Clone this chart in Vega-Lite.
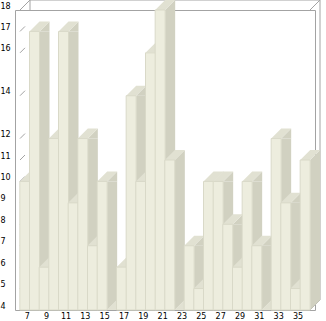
{
  "$schema": "https://vega.github.io/schema/vega-lite/v6.json",
  "width": 300,
  "height": 300,
  "autosize": "none",
  "padding": {"left": 15, "top": 10, "right": 11, "bottom": 11},
  "background": "white",
  "config": {
    "view": {"stroke": "#A3A3A3", "strokeWidth": 1},
    "axis": {"grid": false, "domain": false, "ticks": false, "tickSize": 0, "labelFlush": false, "labelOverlap": false,
      "labelFont": "DejaVu Sans", "labelFontSize": 8, "labelColor": "#000000"},
    "axisX": {"labelPadding": 2, "labelOffset": 2},
    "axisY": {"labelAlign": "left", "labelPadding": 15, "labelOffset": -4}
  },
  "data": {"values": [
    {"x": 7, "v": 10}, {"x": 8, "v": 17}, {"x": 9, "v": 6}, {"x": 10, "v": 12},
    {"x": 11, "v": 17}, {"x": 12, "v": 9}, {"x": 13, "v": 12}, {"x": 14, "v": 7},
    {"x": 15, "v": 10}, {"x": 16, "v": 4}, {"x": 17, "v": 6}, {"x": 18, "v": 14},
    {"x": 19, "v": 10}, {"x": 20, "v": 16}, {"x": 21, "v": 18}, {"x": 22, "v": 11},
    {"x": 23, "v": 4}, {"x": 24, "v": 7}, {"x": 25, "v": 5}, {"x": 26, "v": 10},
    {"x": 27, "v": 10}, {"x": 28, "v": 8}, {"x": 29, "v": 6}, {"x": 30, "v": 10},
    {"x": 31, "v": 7}, {"x": 32, "v": 4}, {"x": 33, "v": 12}, {"x": 34, "v": 9},
    {"x": 35, "v": 5}, {"x": 36, "v": 11}
  ]},
  "layer": [
    {
      "data": {"values": [{}]},
      "mark": {"type": "rule", "stroke": "#A3A3A3", "strokeWidth": 1, "xOffset": 10, "x2Offset": 10, "yOffset": -10},
      "encoding": {
        "x": {"datum": 6.5, "type": "quantitative", "scale": {"domain": [6.5, 36.5], "nice": false, "zero": false}, "axis": {"values": [7, 9, 11, 13, 15, 17, 19, 21, 23, 25, 27, 29, 31, 33, 35], "title": null}},
        "x2": {"datum": 36.5},
        "y": {"datum": 18, "type": "quantitative", "scale": {"domain": [4, 18], "nice": false, "zero": false}, "axis": {"values": [4, 5, 6, 7, 8, 9, 10, 11, 12, 14, 16, 17, 18], "title": null}}
      }
    },
    {
      "data": {"values": [{}]},
      "mark": {"type": "rule", "stroke": "#A3A3A3", "strokeWidth": 1, "xOffset": 10, "yOffset": -10, "y2Offset": -10},
      "encoding": {
        "x": {"datum": 36.5, "type": "quantitative", "scale": {"domain": [6.5, 36.5], "nice": false, "zero": false}, "axis": {"values": [7, 9, 11, 13, 15, 17, 19, 21, 23, 25, 27, 29, 31, 33, 35], "title": null}},
        "y": {"datum": 18, "type": "quantitative", "scale": {"domain": [4, 18], "nice": false, "zero": false}, "axis": {"values": [4, 5, 6, 7, 8, 9, 10, 11, 12, 14, 16, 17, 18], "title": null}},
        "y2": {"datum": 4}
      }
    },
    {
      "data": {"values": [{}]},
      "mark": {"type": "point", "shape": "M 0 0 L 1 -1 L 1 0", "size": 400, "filled": false, "stroke": "#A3A3A3", "strokeWidth": 1, "opacity": 1},
      "encoding": {
        "x": {"datum": 6.5, "type": "quantitative", "scale": {"domain": [6.5, 36.5], "nice": false, "zero": false}, "axis": {"values": [7, 9, 11, 13, 15, 17, 19, 21, 23, 25, 27, 29, 31, 33, 35], "title": null}},
        "y": {"datum": 18, "type": "quantitative", "scale": {"domain": [4, 18], "nice": false, "zero": false}, "axis": {"values": [4, 5, 6, 7, 8, 9, 10, 11, 12, 14, 16, 17, 18], "title": null}}
      }
    },
    {
      "data": {"values": [{}]},
      "mark": {"type": "point", "shape": "M 0 0 L 1 -1", "size": 400, "filled": false, "stroke": "#A3A3A3", "strokeWidth": 1, "opacity": 1},
      "encoding": {
        "x": {"datum": 36.5, "type": "quantitative", "scale": {"domain": [6.5, 36.5], "nice": false, "zero": false}, "axis": {"values": [7, 9, 11, 13, 15, 17, 19, 21, 23, 25, 27, 29, 31, 33, 35], "title": null}},
        "y": {"datum": 18, "type": "quantitative", "scale": {"domain": [4, 18], "nice": false, "zero": false}, "axis": {"values": [4, 5, 6, 7, 8, 9, 10, 11, 12, 14, 16, 17, 18], "title": null}}
      }
    },
    {
      "data": {"values": [{}]},
      "mark": {"type": "point", "shape": "M 0 0 L 1 -1", "size": 400, "filled": false, "stroke": "#A3A3A3", "strokeWidth": 1, "opacity": 1},
      "encoding": {
        "x": {"datum": 36.5, "type": "quantitative", "scale": {"domain": [6.5, 36.5], "nice": false, "zero": false}, "axis": {"values": [7, 9, 11, 13, 15, 17, 19, 21, 23, 25, 27, 29, 31, 33, 35], "title": null}},
        "y": {"datum": 4, "type": "quantitative", "scale": {"domain": [4, 18], "nice": false, "zero": false}, "axis": {"values": [4, 5, 6, 7, 8, 9, 10, 11, 12, 14, 16, 17, 18], "title": null}}
      }
    },
    {
      "data": {"values": [{"t": 5}, {"t": 6}, {"t": 7}, {"t": 8}, {"t": 9}, {"t": 10}, {"t": 11}, {"t": 12}, {"t": 14}, {"t": 16}, {"t": 17}]},
      "mark": {"type": "point", "shape": "M 0 0 L 0.5 -0.5", "size": 400, "filled": false, "stroke": "#A3A3A3", "strokeWidth": 1, "opacity": 1},
      "encoding": {
        "x": {"datum": 6.5, "type": "quantitative", "scale": {"domain": [6.5, 36.5], "nice": false, "zero": false}, "axis": {"values": [7, 9, 11, 13, 15, 17, 19, 21, 23, 25, 27, 29, 31, 33, 35], "title": null}},
        "y": {"field": "t", "type": "quantitative", "scale": {"domain": [4, 18], "nice": false, "zero": false}, "axis": {"values": [4, 5, 6, 7, 8, 9, 10, 11, 12, 14, 16, 17, 18], "title": null}}
      }
    },
    {
      "transform": [{"filter": "datum.v > 4"}],
      "mark": {"type": "bar", "fill": "#D1D1C1", "width": 10, "xOffset": 10, "y2Offset": -10, "clip": false},
      "encoding": {
        "x": {"field": "x", "type": "quantitative", "scale": {"domain": [6.5, 36.5], "nice": false, "zero": false}, "axis": {"values": [7, 9, 11, 13, 15, 17, 19, 21, 23, 25, 27, 29, 31, 33, 35], "title": null}},
        "y": {"field": "v", "type": "quantitative", "scale": {"domain": [4, 18], "nice": false, "zero": false}, "axis": {"values": [4, 5, 6, 7, 8, 9, 10, 11, 12, 14, 16, 17, 18], "title": null}},
        "y2": {"datum": 4}
      }
    },
    {
      "transform": [{"filter": "datum.v > 4"}],
      "mark": {"type": "point", "shape": "M 0.5 0 L 1.5 -1 L 1.5 0 Z", "size": 400, "filled": true, "fill": "#D1D1C1", "strokeWidth": 0, "opacity": 1},
      "encoding": {
        "x": {"field": "x", "type": "quantitative", "scale": {"domain": [6.5, 36.5], "nice": false, "zero": false}, "axis": {"values": [7, 9, 11, 13, 15, 17, 19, 21, 23, 25, 27, 29, 31, 33, 35], "title": null}},
        "y": {"field": "v", "type": "quantitative", "scale": {"domain": [4, 18], "nice": false, "zero": false}, "axis": {"values": [4, 5, 6, 7, 8, 9, 10, 11, 12, 14, 16, 17, 18], "title": null}}
      }
    },
    {
      "transform": [{"filter": "datum.v > 4"}],
      "mark": {"type": "point", "shape": "M 0.5 -1 L 0.5 0 L 1.5 -1 Z", "size": 400, "filled": true, "fill": "#D1D1C1", "strokeWidth": 0, "opacity": 1},
      "encoding": {
        "x": {"field": "x", "type": "quantitative", "scale": {"domain": [6.5, 36.5], "nice": false, "zero": false}, "axis": {"values": [7, 9, 11, 13, 15, 17, 19, 21, 23, 25, 27, 29, 31, 33, 35], "title": null}},
        "y": {"datum": 4, "type": "quantitative", "scale": {"domain": [4, 18], "nice": false, "zero": false}, "axis": {"values": [4, 5, 6, 7, 8, 9, 10, 11, 12, 14, 16, 17, 18], "title": null}}
      }
    },
    {
      "mark": {"type": "point", "shape": "M -0.5 0 L 0.5 0 L 1.5 -1 L 0.5 -1 Z", "size": 400, "filled": true, "fill": "#E1E1D2", "strokeWidth": 0, "opacity": 1},
      "encoding": {
        "x": {"field": "x", "type": "quantitative", "scale": {"domain": [6.5, 36.5], "nice": false, "zero": false}, "axis": {"values": [7, 9, 11, 13, 15, 17, 19, 21, 23, 25, 27, 29, 31, 33, 35], "title": null}},
        "y": {"field": "v", "type": "quantitative", "scale": {"domain": [4, 18], "nice": false, "zero": false}, "axis": {"values": [4, 5, 6, 7, 8, 9, 10, 11, 12, 14, 16, 17, 18], "title": null}}
      }
    },
    {
      "transform": [{"filter": "datum.v > 4"}],
      "mark": {"type": "bar", "fill": "#EDEDDE", "stroke": "#D9D9C8", "strokeWidth": 1, "width": 10},
      "encoding": {
        "x": {"field": "x", "type": "quantitative", "scale": {"domain": [6.5, 36.5], "nice": false, "zero": false}, "axis": {"values": [7, 9, 11, 13, 15, 17, 19, 21, 23, 25, 27, 29, 31, 33, 35], "title": null}},
        "y": {"field": "v", "type": "quantitative", "scale": {"domain": [4, 18], "nice": false, "zero": false}, "axis": {"values": [4, 5, 6, 7, 8, 9, 10, 11, 12, 14, 16, 17, 18], "title": null}},
        "y2": {"datum": 4}
      }
    }
  ]
}
